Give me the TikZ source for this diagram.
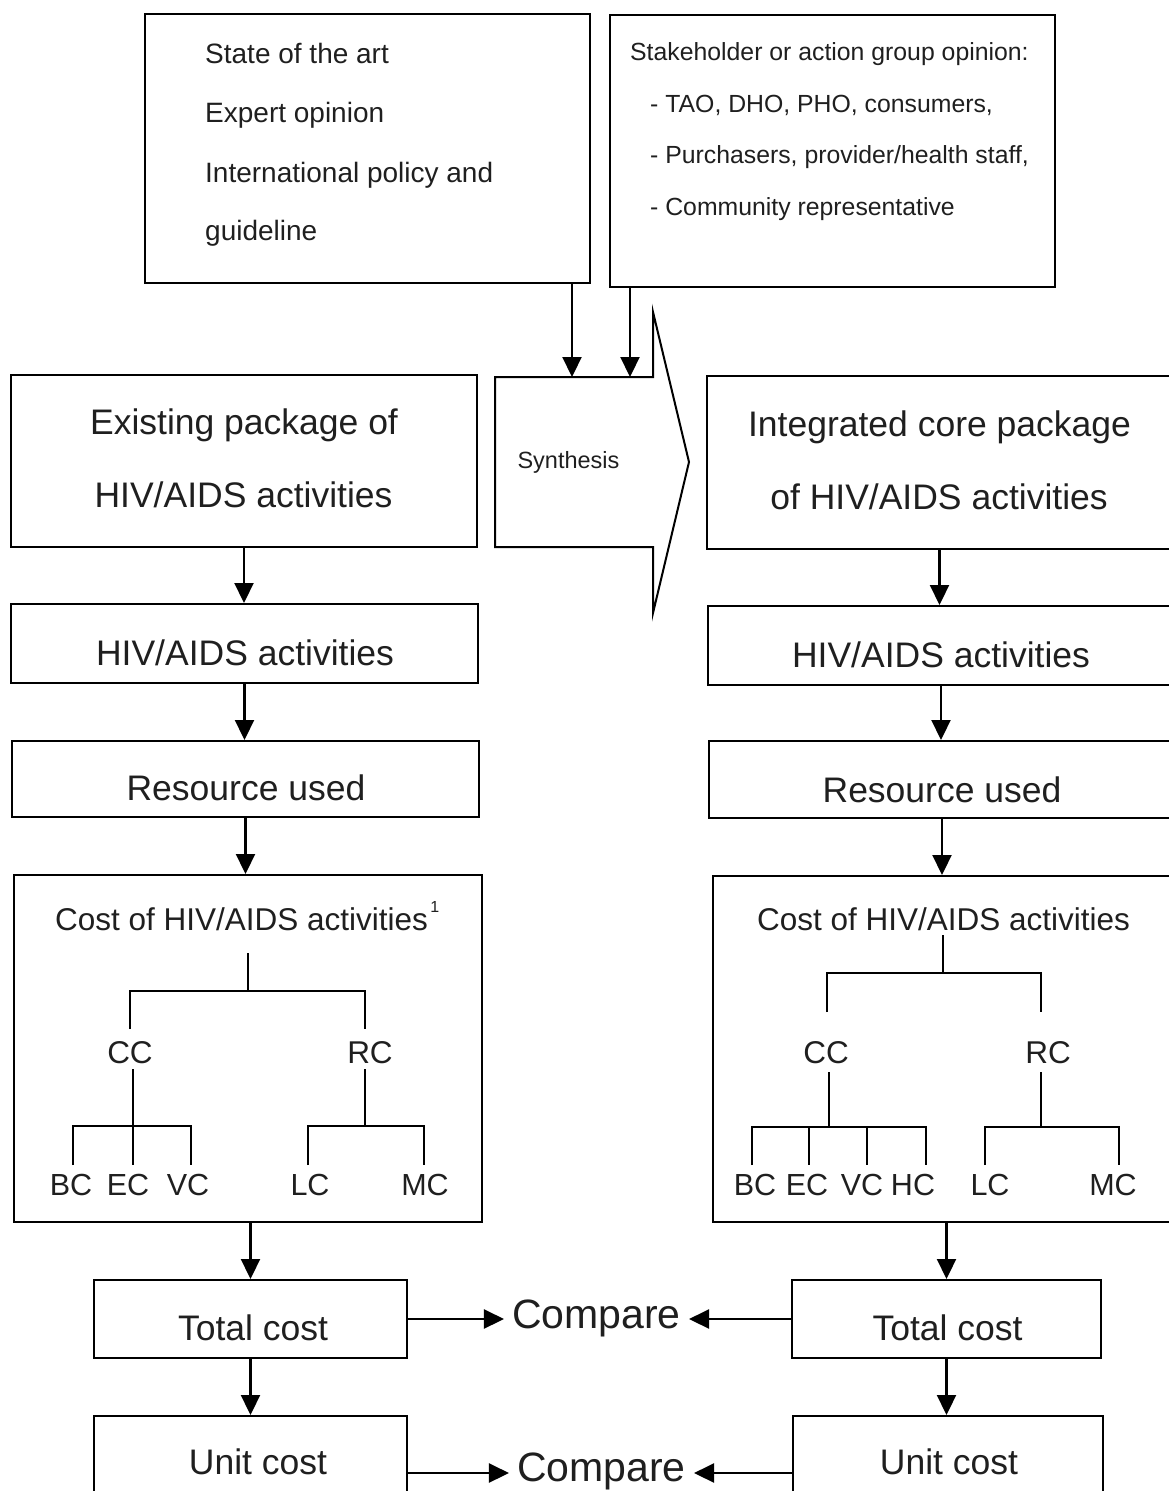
\documentclass[tikz,border=0pt]{standalone}
\usepackage{fontspec}
\setmainfont{Liberation Sans}
\usetikzlibrary{arrows.meta}
\begin{document}
\begin{tikzpicture}[x=1pt,y=-1pt,
  box/.style={draw, line width=2pt, inner sep=0pt},
  txt/.style={anchor=base, inner sep=0pt, text=black!88},
  ltxt/.style={anchor=base west, inner sep=0pt, text=black!88},
  big/.style={font=\fontsize{35.5}{40}\selectfont},
  treefont/.style={font=\fontsize{31.5}{36}\selectfont},
  leaffont/.style={font=\fontsize{30.5}{36}\selectfont},
  cmpstyle/.style={anchor=base, inner xsep=8pt, inner ysep=0pt, text=black!88, font=\fontsize{41}{46}\selectfont},
  arr/.style={line width=2.2pt, -{Triangle[length=20pt,width=19pt]}},
  tree/.style={line width=1.8pt},
  ]
\useasboundingbox (0,0) rectangle (1169,1491);
\clip (0,0) rectangle (1169,1491);

% ---------- top boxes ----------
\node[box, minimum width=445pt, minimum height=269pt] (A) at (367.5,148.5) {};
\node[box, minimum width=445pt, minimum height=272pt] (B) at (832.5,151) {};
\begin{scope}[every node/.style={font=\fontsize{28}{32}\selectfont}]
\node[ltxt] (a1) at (205,63) {State of the art};
\node[ltxt] (a2) at (205,122) {Expert opinion};
\node[ltxt] (a3) at (205,182) {International policy and};
\node[ltxt] (a4) at (205,240) {guideline};
\end{scope}
\begin{scope}[every node/.style={font=\fontsize{24.8}{28}\selectfont}]
\node[ltxt] (b1) at (630,60) {Stakeholder or action group opinion:};
\node[ltxt] (b2) at (650,112) {- TAO, DHO, PHO, consumers,};
\node[ltxt] (b3) at (650,163) {- Purchasers, provider/health staff,};
\node[ltxt] (b4) at (650,215) {- Community representative};
\end{scope}

% ---------- synthesis arrow ----------
\draw[line width=2pt] (495,377) -- (653,377) -- (653,312) -- (689,462) -- (653,613) -- (653,547) -- (495,547) -- cycle;
\node[txt, font=\fontsize{23.5}{28}\selectfont] (syn) at (568.5,468) {Synthesis};
\coordinate (sa1) at (572,377);
\coordinate (sa2) at (630,377);
\draw[arr] (A.south -| sa1) -- (sa1);
\draw[arr] (B.south -| sa2) -- (sa2);

% ---------- left column ----------
\node[box, minimum width=466pt, minimum height=172pt] (L1) at (244,461) {};
\node[box, minimum width=467pt, minimum height=79pt] (L2) at (244.5,643.5) {};
\node[box, minimum width=467pt, minimum height=76pt] (L3) at (245.5,779) {};
\node[box, minimum width=468pt, minimum height=347pt] (L4) at (248,1048.5) {};
\node[box, minimum width=313pt, minimum height=78pt] (L5) at (250.5,1319) {};
\node[box, minimum width=313pt, minimum height=84pt] (L6) at (250.5,1458) {};

\node[txt, big] (l1a) at (244,434) {Existing package of};
\node[txt, big] (l1b) at (243.5,507) {HIV/AIDS activities};
\node[txt, big] (l2t) at (245,665) {HIV/AIDS activities};
\node[txt, big] (l3t) at (246,800) {Resource used};
\node[txt, big] (l5t) at (253,1340) {Total cost};
\node[txt, big] (l6t) at (258,1474) {Unit cost};

\draw[arr] (L1.south) -- (L1.south |- L2.north);
\draw[arr] (L2.south) -- (L2.south |- L3.north);
\draw[arr] (L3.south) -- (L3.south |- L4.north);
\draw[arr] (L5.north |- L4.south) -- (L5.north);
\draw[arr] (L5.south) -- (L5.south |- L6.north);

% left tree
\node[txt, treefont] (lt) at (241.5,930) {Cost of HIV/AIDS activities};
\node[anchor=base west, inner sep=0pt, text=black!88, font=\fontsize{16}{18}\selectfont] (lsup) at ([xshift=2pt,yshift=18pt]lt.base east) {1};
\node[txt, treefont] (lcc) at (130,1063) {CC};
\node[txt, treefont] (lrc) at (370,1063) {RC};
\node[txt, leaffont] (lbc) at (71,1195) {BC};
\node[txt, leaffont] (lec) at (128,1195) {EC};
\node[txt, leaffont] (lvc) at (188,1195) {VC};
\node[txt, leaffont] (llc) at (310,1195) {LC};
\node[txt, leaffont] (lmc) at (425,1195) {MC};
\draw[tree] (248,953) -- (248,991);
\draw[tree] (130,1029) -- (130,991) -- (365,991) -- (365,1029);
\draw[tree] (133,1069) -- (133,1165);
\draw[tree] (73,1165) -- (73,1126) -- (191,1126) -- (191,1165);
\draw[tree] (365,1069) -- (365,1126);
\draw[tree] (308,1165) -- (308,1126) -- (424,1126) -- (424,1165);

% ---------- right column ----------
\node[box, minimum width=465pt, minimum height=173pt] (R1) at (939.5,462.5) {};
\node[box, minimum width=466pt, minimum height=79pt] (R2) at (941,645.5) {};
\node[box, minimum width=466pt, minimum height=77pt] (R3) at (942,779.5) {};
\node[box, minimum width=461pt, minimum height=346pt] (R4) at (943.5,1049) {};
\node[box, minimum width=309pt, minimum height=78pt] (R5) at (946.5,1319) {};
\node[box, minimum width=310pt, minimum height=84pt] (R6) at (948,1458) {};

\node[txt, big] (r1a) at (939.5,436) {Integrated core package};
\node[txt, big] (r1b) at (939,509) {of HIV/AIDS activities};
\node[txt, big] (r2t) at (941,667) {HIV/AIDS activities};
\node[txt, big] (r3t) at (942,802) {Resource used};
\node[txt, big] (r5t) at (947.5,1340) {Total cost};
\node[txt, big] (r6t) at (949,1474) {Unit cost};

\draw[arr] (R1.south) -- (R1.south |- R2.north);
\draw[arr] (R2.south) -- (R2.south |- R3.north);
\draw[arr] (R3.south) -- (R3.south |- R4.north);
\draw[arr] (R5.north |- R4.south) -- (R5.north);
\draw[arr] (R5.south) -- (R5.south |- R6.north);

% right tree
\node[txt, treefont] (rt) at (943.5,930) {Cost of HIV/AIDS activities};
\node[txt, treefont] (rcc) at (826,1063) {CC};
\node[txt, treefont] (rrc) at (1048,1063) {RC};
\node[txt, leaffont] (rbc) at (755,1195) {BC};
\node[txt, leaffont] (rec) at (807,1195) {EC};
\node[txt, leaffont] (rvc) at (862,1195) {VC};
\node[txt, leaffont] (rhc) at (913,1195) {HC};
\node[txt, leaffont] (rlc) at (990,1195) {LC};
\node[txt, leaffont] (rmc) at (1113,1195) {MC};
\draw[tree] (943,935) -- (943,973);
\draw[tree] (827,1012) -- (827,973) -- (1041,973) -- (1041,1012);
\draw[tree] (829,1072) -- (829,1127);
\draw[tree] (752,1165) -- (752,1127) -- (926,1127) -- (926,1165);
\draw[tree] (809,1127) -- (809,1165);
\draw[tree] (867,1127) -- (867,1165);
\draw[tree] (1041,1072) -- (1041,1127);
\draw[tree] (985,1165) -- (985,1127) -- (1119,1127) -- (1119,1165);

% ---------- compare ----------
\node[cmpstyle] (cmp1) at (596.5,1328) {Compare};
\node[cmpstyle] (cmp2) at (601.5,1481) {Compare};
\draw[arr] (L5.east) -- (L5.east -| cmp1.west);
\draw[arr] (R5.west) -- (R5.west -| cmp1.east);
\draw[arr] ([yshift=-15pt]L6.east) -- ([yshift=-15pt]L6.east -| cmp2.west);
\draw[arr] ([yshift=-15pt]R6.west) -- ([yshift=-15pt]R6.west -| cmp2.east);
\end{tikzpicture}
\end{document}
